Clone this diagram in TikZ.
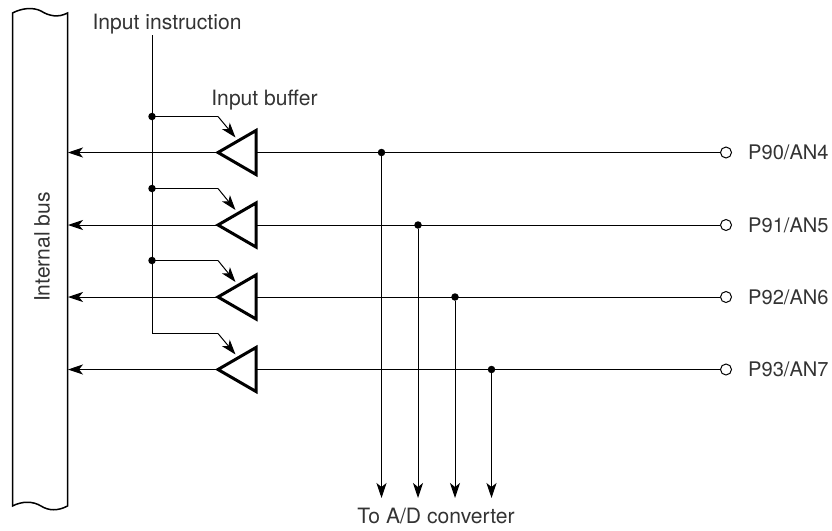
\documentclass[tikz,border=0pt]{standalone}
\usepackage{fontspec}
\setmainfont{TeX Gyre Heros}
\usetikzlibrary{arrows.meta}
\tikzset{
  lbl/.style={inner sep=0pt,font=\fontsize{21.1}{24}\selectfont,text=black!80},
  plbl/.style={inner sep=0pt,font=\fontsize{20.1}{24}\selectfont,text=black!80},
  wire/.style={line width=1pt,black},
  arr/.style={-{Stealth[length=15pt,width=10pt,inset=4pt]}},
  sarr/.style={-{Stealth[length=15pt,width=10pt,inset=4pt]}},
  buf/.style={line width=3pt,miter limit=10,line join=miter},
  dotm/.style={circle,fill=black,inner sep=0pt,minimum size=7.5pt},
  pin/.style={circle,draw=black,line width=1pt,fill=white,inner sep=0pt,minimum size=11pt},
  bus/.style={line width=1.5pt}
}
\newcommand{\bufrow}[6]{%
  \coordinate (tip#1) at (218,#2);
  \coordinate (back#1) at (256,#2);
  \coordinate (busedge#1) at (68,#2);
  \node[pin] (pin#1) at (726,#2) {};
  \node[plbl,anchor=west] (lab#1) at (748,#2) {#5};
  \coordinate (elb#1) at (218,#4);
  \coordinate (ctl#1) at (152,#4);
  \coordinate (ah#1) at (235.5,{#2-15});
  \coordinate (dn#1) at (#3,498);
  \node[dotm] (tap#1) at (#3,#2) {};
  \draw[wire,arr] (tip#1) -- (busedge#1);
  \draw[wire] (back#1) -- (pin#1);
  \draw[wire,sarr] (tap#1) -- (dn#1);
  \draw[wire] (ctl#1) -- (elb#1);
  \draw[wire,sarr] (elb#1) -- (ah#1);
  \draw[buf,fill=white] (218,#2) -- (256,{#2-22}) -- (256,{#2+22}) -- cycle;
  #6
}
\begin{document}
\begin{tikzpicture}[x=1pt,y=-1pt]
\useasboundingbox (0,0) rectangle (832,530);
% internal bus
\draw[bus] (12.5,13) .. controls (22,8) and (33,7) .. (41,11) .. controls (49,16) and (58,18) .. (67.5,13) -- (67.5,506)
  .. controls (58,511) and (49,511) .. (41,506) .. controls (33,501) and (22,501) .. (12.5,506) -- cycle;
\node[lbl,rotate=90] (busl) at (42,247) {Internal bus};
% labels
\node[lbl] (ii) at (167,24) {Input instruction};
\node[lbl] (ib) at (264.5,100) {Input buffer};
\node[lbl] (ad) at (436,516) {To A/D converter};
% control line
\coordinate (ctop) at (152,35);
\coordinate (c4) at (152,333.5);
\draw[wire] (ctop) -- (c4);
% rows
\bufrow{1}{152.5}{381.5}{116.5}{P90/AN4}{\node[dotm] (d1) at (ctl1) {};}
\bufrow{2}{225}{418}{188.5}{P91/AN5}{\node[dotm] (d2) at (ctl2) {};}
\bufrow{3}{297}{455}{260.5}{P92/AN6}{\node[dotm] (d3) at (ctl3) {};}
\bufrow{4}{369.5}{491.5}{333.5}{P93/AN7}{}
\end{tikzpicture}
\end{document}
